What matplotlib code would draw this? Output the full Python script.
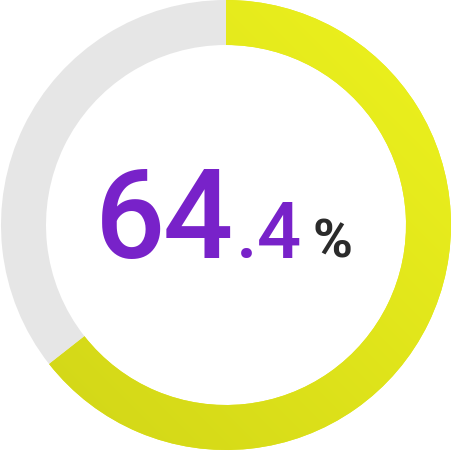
import matplotlib
matplotlib.use("Agg")
import matplotlib.pyplot as plt
import numpy as np

# Werte des Donuts
werte = [64.4, 35.6]
farben = ["#e4e81c", "#e6e6e6"]
# Zeichen der Mitte: (Text, x-Mitte in px, Schriftgroesse, Farbe, Gewicht)
zeichen = [
    ("6", 130.5, 89, "#7822c9", "medium"),
    ("4", 197.5, 89, "#7822c9", "medium"),
    (".", 247, 56, "#7822c9", "medium"),
    ("4", 279, 56, "#7822c9", "medium"),
    ("%", 332.5, 39, "#2b2b2b", "bold"),
]

W = 452
fig = plt.figure(figsize=(4.52, 4.52), dpi=100, facecolor="white")
ax = fig.add_axes([0, 0, 1, 1])

cx, cy, r, breite = 226, 226, 225, 45
wedges, _ = ax.pie(werte, colors=farben, startangle=90, counterclock=False,
                   radius=r, center=(cx, cy), frame=True,
                   wedgeprops=dict(width=breite, linewidth=0))

# Farbverlauf fuer den gelben Teil (oben rechts hell, unten links dunkler)
n = 200
xx, yy = np.meshgrid(np.linspace(0, 1, n), np.linspace(0, 1, n))
t = np.clip((xx + yy) / 2, 0, 1)  # 0 = unten links, 1 = oben rechts
c0 = np.array([0xd0, 0xd4, 0x17]) / 255
c1 = np.array([0xee, 0xf3, 0x1e]) / 255
img = c0[None, None, :] * (1 - t[..., None]) + c1[None, None, :] * t[..., None]
im = ax.imshow(img, extent=(cx - r, cx + r, cy - r, cy + r), origin="lower",
               zorder=2, interpolation="bilinear")
im.set_clip_path(wedges[0])

ax.set_xlim(0, W)
ax.set_ylim(0, W)
ax.set_aspect("equal")
ax.axis("off")

font = ["Roboto", "DejaVu Sans"]
for txt, x, fs, col, gew in zeichen:
    ax.text(x, W - 258, txt, fontsize=fs, color=col, fontweight=gew,
            family=font, ha="center", va="baseline", zorder=3)

fig.savefig("out.png", dpi=100, facecolor="white")
